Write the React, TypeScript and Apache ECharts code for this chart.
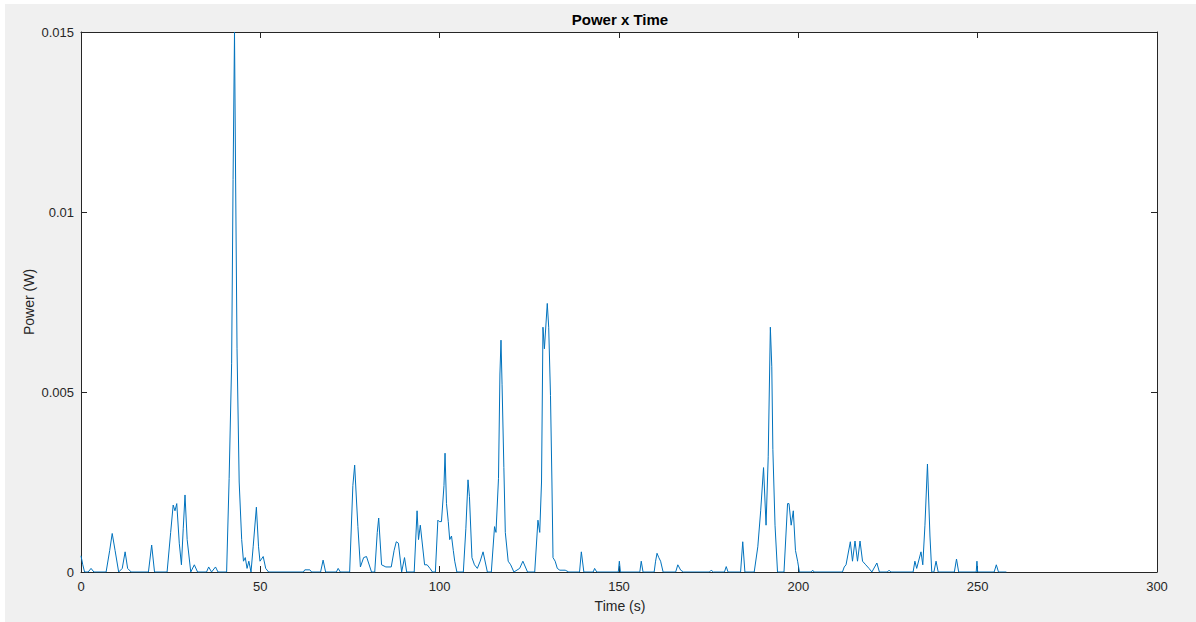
import React, { useEffect, useRef } from "react";
import * as echarts from "echarts";

const titleText = "Power x Time";
const xAxisTitle = "Time (s)";
const yAxisTitle = "Power (W)";

const xTicks = [0, 50, 100, 150, 200, 250, 300];
const yTicks = [0, 0.005, 0.01, 0.015];

const timeS = [
  0, 0.5, 1, 2, 2.8, 3.6, 7, 8, 8.7, 9.5, 10.5, 11.5, 12.3, 13, 14, 18.8, 19.7, 20.5,
  24, 25, 25.7, 26.2, 26.7, 27.4, 28, 28.5, 29, 29.6, 30.6, 31.6, 32.5, 35, 35.6, 36.4,
  37.5, 38.2, 40.6, 41.3, 42.0, 42.4, 42.8, 43.1, 43.5, 44.1, 44.8, 45.3, 45.8, 46.3,
  46.8, 47.4, 48, 48.9, 49.5, 49.9, 50.8, 51.5, 52.3, 62, 62.4, 63.8, 64.3, 66.8, 67.5,
  68.2, 71.2, 71.7, 72.3, 74.9, 75.8, 76.3, 76.8, 77.2, 77.9, 78.8, 79.6, 81, 81.9, 82.6,
  83, 83.8, 85, 86.5, 87.3, 87.9, 88.5, 89.4, 90.2, 90.8, 92.9, 93.7, 94.1, 94.6, 95.8,
  96.5, 97.3, 98, 98.8, 99.5, 99.9, 100.5, 101.2, 101.5, 101.9, 102.4, 102.8, 103.3,
  103.8, 104.2, 104.8, 106.6, 107.3, 107.9, 108.3, 109, 109.7, 110.5, 111.3, 112.1,
  113.3, 114.4, 115.3, 115.7, 116.4, 116.8, 117.1, 117.4, 117.9, 118.3, 119.1, 119.8,
  120.7, 122.3, 123.2, 124.5, 126.5, 127.4, 127.9, 128.4, 128.8, 129.2, 130, 130.4,
  130.9, 131.3, 131.6, 132.2, 132.8, 133.5, 135, 136, 139, 139.5, 140.2, 142.8, 143.2,
  143.8, 149.8, 150.1, 150.4, 155.8, 156.2, 156.7, 159.8, 160.2, 160.6, 161.1, 161.6,
  162.3, 165.8, 166.4, 167.2, 168, 175.2, 175.7, 176.3, 179.4, 179.9, 180.4, 183.9,
  184.5, 185.1, 187.7, 188.7, 189.5, 190.3, 191, 191.6, 192.2, 192.6, 192.9, 193.5,
  194.2, 196, 197, 197.4, 198, 198.6, 199.2, 199.8, 200.3, 203.6, 204, 204.4, 212.3,
  212.8, 213.3, 214.5, 215.1, 215.8, 216.5, 217.2, 217.9, 218.8, 219.7, 220.5, 221.9,
  222.6, 224.8, 225.3, 225.8, 232, 232.5, 233, 234.2, 234.7, 235.3, 236, 236.7, 237.2,
  237.8, 238.4, 239, 243.5, 244.1, 244.7, 249.6, 249.8, 250, 254.6, 255.2, 255.8, 258,
];

const powerW = [
  0.00045, 0.0002, 0, 0, 0.0001, 0, 0, 0.0006, 0.00107, 0.0006, 0, 0.0001, 0.00056, 0.0001, 0, 0, 0.00075, 0,
  0, 0.0011, 0.00186, 0.0017, 0.0019, 0.0008, 0.0002, 0.0012, 0.00214, 0.0009, 0, 0.0002, 0, 0, 0.00014, 0,
  0.00014, 0, 0, 0.0026, 0.0058, 0.0109, 0.015, 0.011, 0.0062, 0.0025, 0.0009, 0.0003, 0.0004, 0.0001,
  0.0003, 0, 0.0007, 0.0018, 0.0007, 0.0003, 0.00043, 0.0001, 0, 0, 0.00006, 0.00006, 0, 0, 0.00033,
  0, 0, 0.0001, 0, 0, 0.0024, 0.00297, 0.002, 0.00126, 0.00014, 0.0004, 0.00043, 0, 0, 0.0011,
  0.0015, 0.0002, 0.00014, 0.00014, 0.0006, 0.00084, 0.0008, 0, 0.0004, 0, 0, 0.0017, 0.0009, 0.0013, 0.0002,
  0.0002, 0.0001, 0, 0, 0.00144, 0.0014, 0.0014, 0.0024, 0.0033, 0.0019, 0.0014, 0.0009, 0.001,
  0.0006, 0.0003, 0, 0, 0.0012, 0.00256, 0.0021, 0.0004, 0.0002, 0.0001, 0.0003, 0.00056,
  0, 0, 0.00126, 0.0011, 0.0026, 0.0055, 0.00644, 0.0052, 0.0029, 0.0011, 0.0003, 0.0002,
  0, 0.0001, 0.0003, 0, 0, 0.00144, 0.0011, 0.0025, 0.0068, 0.0062, 0.00746, 0.0068,
  0.0049, 0.0025, 0.0004, 0.0003, 0.0001, 0.00005, 0.00005, 0, 0, 0.00056, 0, 0, 0.0001,
  0, 0, 0.0003, 0, 0, 0.0003, 0, 0, 0.0003, 0.00052, 0.0004, 0.0003,
  0, 0, 0.0002, 0.00005, 0, 0, 0.00005, 0, 0, 0.00015, 0, 0,
  0.00084, 0, 0, 0.0007, 0.0017, 0.0029, 0.0013, 0.0032, 0.0068, 0.0057, 0.0034, 0.0013,
  0, 0, 0.0019, 0.0019, 0.0013, 0.0017, 0.0006, 0.0003, 0, 0, 0.00005, 0, 0,
  0.00014, 0.0002, 0.00084, 0.0003, 0.00086, 0.0003, 0.00086, 0.0003, 0.0002, 0.0001, 0, 0.00025,
  0, 0, 0.00005, 0, 0, 0.0003, 0.0001, 0.00056, 0.0002, 0.0013, 0.003, 0.001, 0,
  0, 0.0003, 0, 0, 0.00036, 0, 0, 0.0003, 0, 0, 0.0002, 0, 0,
];

const FONT = "'Liberation Sans', Arial, Helvetica, sans-serif";
const AX = "#262626";

export default function App() {
  const ref = useRef<HTMLDivElement>(null);

  useEffect(() => {
    if (!ref.current) return;
    const chart = echarts.init(ref.current, undefined, { renderer: "svg" });
    const data = timeS.map((t, i) => [t, powerW[i]]);
    const fmtY = (v: number) => String(+v.toFixed(4));
    const baseAxis = {
      axisLine: { show: true, onZero: false, lineStyle: { color: AX, width: 1 } },
      axisTick: { show: true, inside: true, length: 6, lineStyle: { color: AX } },
      splitLine: { show: false },
    };
    chart.setOption({
      animation: false,
      backgroundColor: "#f0f0f0",
      textStyle: { fontFamily: FONT },
      grid: {
        left: 76,
        top: 28,
        right: 39,
        bottom: 50,
        show: true,
        backgroundColor: "#ffffff",
        borderWidth: 0,
      },
      xAxis: [
        {
          type: "value",
          position: "bottom",
          min: xTicks[0],
          max: xTicks[xTicks.length - 1],
          interval: 50,
          ...baseAxis,
          axisLabel: { color: AX, fontSize: 13, margin: 8, fontFamily: FONT },
        },
        {
          type: "value",
          position: "top",
          min: xTicks[0],
          max: xTicks[xTicks.length - 1],
          interval: 50,
          ...baseAxis,
          axisLabel: { show: false },
        },
      ],
      yAxis: [
        {
          type: "value",
          position: "left",
          min: yTicks[0],
          max: yTicks[yTicks.length - 1],
          interval: 0.005,
          ...baseAxis,
          axisLabel: { color: AX, fontSize: 13, margin: 7, fontFamily: FONT, formatter: fmtY },
        },
        {
          type: "value",
          position: "right",
          min: yTicks[0],
          max: yTicks[yTicks.length - 1],
          interval: 0.005,
          ...baseAxis,
          axisLabel: { show: false },
        },
      ],
      series: [
        {
          type: "line",
          xAxisIndex: 0,
          yAxisIndex: 0,
          data,
          showSymbol: false,
          symbol: "none",
          lineStyle: { color: "#0072BD", width: 1 },
          clip: true,
        },
      ],
      graphic: [
        {
          type: "text",
          x: 615,
          y: 15,
          style: {
            text: titleText,
            fill: "#000",
            fontSize: 15,
            fontWeight: "bold",
            fontFamily: FONT,
            align: "center",
            verticalAlign: "middle",
          },
        },
        {
          type: "text",
          x: 615,
          y: 602,
          style: {
            text: xAxisTitle,
            fill: AX,
            fontSize: 14,
            fontFamily: FONT,
            align: "center",
            verticalAlign: "middle",
          },
        },
        {
          type: "text",
          x: 24,
          y: 298,
          rotation: Math.PI / 2,
          style: {
            text: yAxisTitle,
            fill: AX,
            fontSize: 14,
            fontFamily: FONT,
            align: "center",
            verticalAlign: "middle",
          },
        },
      ],
    });
    return () => chart.dispose();
  }, []);

  return (
    <div
      style={{
        position: "absolute",
        left: 0,
        top: 0,
        width: 1196,
        height: 622,
        background: "#ffffff",
      }}
    >
      <div
        ref={ref}
        style={{ position: "absolute", left: 5, top: 4, width: 1191, height: 618 }}
      />
    </div>
  );
}
